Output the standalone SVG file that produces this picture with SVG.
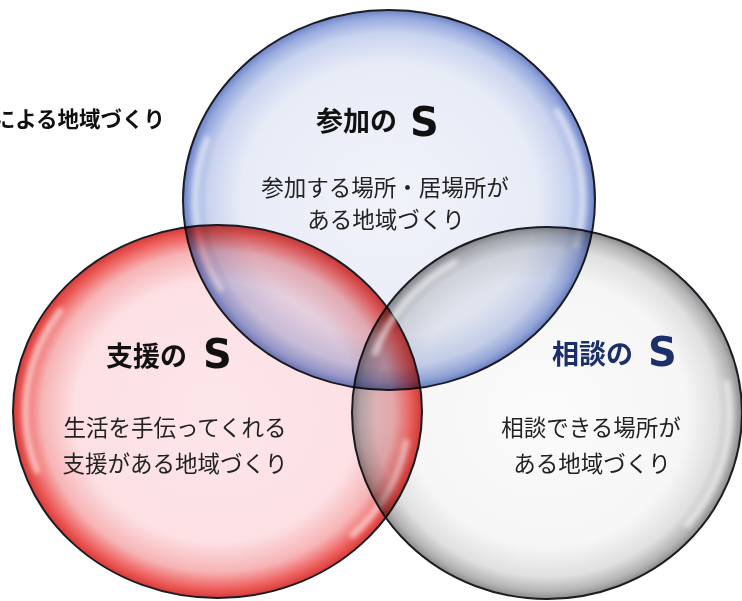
<svg xmlns="http://www.w3.org/2000/svg" width="742" height="601" viewBox="0 0 742 601">
<style>
.jp{font-family:"Noto Sans CJK JP","Noto Sans",sans-serif;}
.title{font-size:27px;font-weight:bold;fill:#111;}
.s{font-family:"DejaVu Sans","Liberation Sans",sans-serif;font-size:40px;font-weight:bold;fill:#111;}
.body{font-size:22.5px;fill:#222;text-anchor:middle;}
.bub{mix-blend-mode:multiply;stroke:#1c1c24;stroke-width:2;}
.hl{fill:none;stroke:#fff;stroke-width:6;stroke-linecap:round;opacity:0.6;filter:url(#blur);}
</style>
<defs>
<filter id="blur" x="-50%" y="-50%" width="200%" height="200%"><feGaussianBlur stdDeviation="2.5"/></filter>
<radialGradient id="gBlue" cx="0.5" cy="0.5" r="0.5">
<stop offset="0" stop-color="#f1f3fa"/>
<stop offset="0.72" stop-color="#e8ecf7"/>
<stop offset="0.88" stop-color="#c9d3ef"/>
<stop offset="0.96" stop-color="#97aade"/>
<stop offset="1" stop-color="#6b82c6"/>
</radialGradient>
<radialGradient id="gRed" cx="0.5" cy="0.5" r="0.5">
<stop offset="0" stop-color="#fde6ea"/>
<stop offset="0.7" stop-color="#fce0e4"/>
<stop offset="0.86" stop-color="#f7b4b6"/>
<stop offset="0.95" stop-color="#ee605d"/>
<stop offset="1" stop-color="#d63a38"/>
</radialGradient>
<radialGradient id="gGray" cx="0.5" cy="0.5" r="0.5">
<stop offset="0" stop-color="#fbfbfb"/>
<stop offset="0.72" stop-color="#f6f6f6"/>
<stop offset="0.88" stop-color="#e0e0e0"/>
<stop offset="0.96" stop-color="#b4b4b4"/>
<stop offset="1" stop-color="#8c8c8c"/>
</radialGradient>
</defs>
<rect width="742" height="601" fill="#fff"/>

<text class="jp" x="165" y="127" font-size="21.5" font-weight="bold" text-anchor="end" fill="#111">による地域づくり</text>

<g id="blue">
<ellipse class="bub" cx="389" cy="200" rx="206" ry="190" fill="url(#gBlue)"/>
<path class="hl" d="M221 289 A194 178 0 0 1 207 139"/>
<path class="hl" d="M557 111 A194 178 0 0 1 576 246"/>
</g>
<g id="red">
<ellipse class="bub" cx="217.5" cy="411.5" rx="204.5" ry="186.5" fill="url(#gRed)"/>
<path class="hl" d="M37 471 A192 175 0 0 1 60 311"/>
<path class="hl" d="M406 442 A192 175 0 0 1 353 535"/>
</g>
<g id="gray">
<ellipse class="bub" cx="547" cy="413" rx="195" ry="186" fill="url(#gGray)"/>
<path class="hl" d="M375 353 A183 174 0 0 1 455 262"/>
<path class="hl" d="M727 383 A183 174 0 0 1 687 525"/>
</g>

<g id="blue-text">
<text class="jp title" x="316" y="131">参加の</text>
<text class="s" x="410" y="136">S</text>
<text class="jp body" x="385" y="196">参加する場所・居場所が</text>
<text class="jp body" x="386" y="228">ある地域づくり</text>
</g>
<g id="red-text">
<text class="jp title" x="106" y="366">支援の</text>
<text class="s" x="203" y="368">S</text>
<text class="jp body" x="175" y="436">生活を手伝ってくれる</text>
<text class="jp body" x="175" y="472">支援がある地域づくり</text>
</g>
<g id="gray-text">
<text class="jp title" x="552" y="364" style="fill:#1b2f6b">相談の</text>
<text class="s" x="648" y="366" style="fill:#1b2f6b">S</text>
<text class="jp body" x="591" y="436">相談できる場所が</text>
<text class="jp body" x="592" y="472">ある地域づくり</text>
</g>
</svg>
